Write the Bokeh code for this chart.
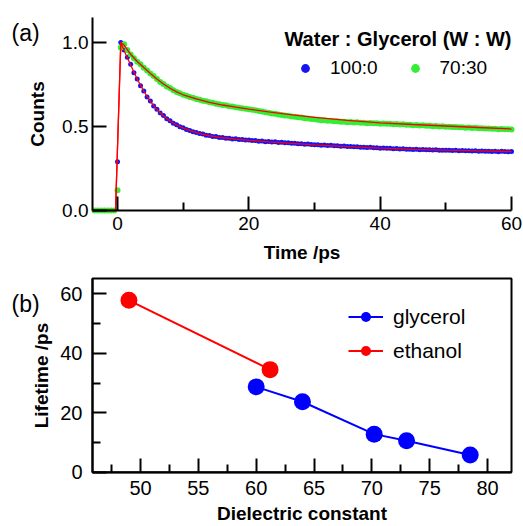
import numpy as np
from bokeh.plotting import figure
from bokeh.layouts import column
from bokeh.models import (Range1d, FixedTicker, Label, Legend, LegendItem,
                          PrintfTickFormatter, BoxAnnotation)
from bokeh.embed import file_html
from bokeh.resources import INLINE

FONT = "Liberation Sans"
BLUE = "#1414f5"
GREEN = "#33ee33"
RED = "#ff0000"

# ---------------- panel (a) data ----------------
time_ps = np.arange(-3.5, 60.01, 0.5)  # sampling grid of the measurement (ps)

counts_100_0 = [
    0.0, 0.0, 0.0, 0.0, 0.0, 0.0, 0.0,
    0.29, 1.00, 0.955, 0.913, 0.870, 0.820, 0.783, 0.742, 0.711, 0.675,
    0.652, 0.622, 0.603, 0.580, 0.565, 0.546, 0.535, 0.519, 0.511, 0.498,
    0.492, 0.482, 0.477, 0.469, 0.465, 0.458, 0.455, 0.448, 0.447, 0.441,
    0.440, 0.435, 0.435, 0.430, 0.430, 0.426, 0.427, 0.422, 0.422, 0.419, 0.419,
    0.416, 0.416, 0.413, 0.414, 0.410, 0.411, 0.408, 0.409, 0.405, 0.406,
    0.403, 0.404, 0.400, 0.401, 0.398, 0.398, 0.395, 0.396, 0.393, 0.392,
    0.392, 0.389, 0.390, 0.387, 0.388, 0.385, 0.386, 0.383, 0.384, 0.381,
    0.381, 0.379, 0.380, 0.377, 0.377, 0.375, 0.376, 0.373, 0.373, 0.371,
    0.372, 0.370, 0.370, 0.368, 0.369, 0.366, 0.367, 0.365, 0.365, 0.363,
    0.364, 0.362, 0.363, 0.361, 0.361, 0.360, 0.361, 0.359, 0.359, 0.358,
    0.359, 0.357, 0.358, 0.356, 0.357, 0.355, 0.356, 0.354, 0.355, 0.353,
    0.354, 0.352, 0.353, 0.351, 0.352, 0.350, 0.352, 0.351, 0.350, 0.351,
]

counts_70_30 = [
    0.0, 0.0, 0.0, 0.0, 0.0, 0.0, 0.0,
    0.12, 0.97, 0.99, 0.955, 0.928, 0.906, 0.886, 0.870, 0.850, 0.833,
    0.815, 0.800, 0.783, 0.765, 0.753, 0.738, 0.729, 0.716, 0.706, 0.698,
    0.689, 0.683, 0.676, 0.671, 0.664, 0.660, 0.653, 0.650, 0.644, 0.641,
    0.636, 0.633, 0.628, 0.626, 0.621, 0.619, 0.615, 0.612, 0.609, 0.606, 0.603,
    0.600, 0.597, 0.593, 0.590, 0.585, 0.582, 0.578, 0.576, 0.572, 0.569,
    0.566, 0.564, 0.560, 0.558, 0.555, 0.553, 0.549, 0.548, 0.545, 0.543,
    0.541, 0.538, 0.537, 0.534, 0.534, 0.531, 0.531, 0.528, 0.529, 0.526,
    0.527, 0.524, 0.525, 0.522, 0.523, 0.520, 0.521, 0.519, 0.520, 0.517,
    0.518, 0.516, 0.516, 0.514, 0.515, 0.512, 0.513, 0.510, 0.511, 0.508,
    0.509, 0.506, 0.507, 0.504, 0.505, 0.502, 0.503, 0.500, 0.501, 0.499,
    0.499, 0.497, 0.497, 0.495, 0.496, 0.493, 0.494, 0.491, 0.492, 0.489,
    0.490, 0.488, 0.488, 0.486, 0.487, 0.484, 0.485, 0.483, 0.484, 0.482,
]

fit_time = [-3.81, -0.3, 0.5, 1, 2, 3, 4, 5, 6, 7, 8, 9, 10, 12, 14, 16, 18,
            20, 23, 26, 30, 35, 40, 45, 50, 55, 60]
fit_100_0 = [0, 0, 1.0, 0.953, 0.866, 0.782, 0.710, 0.650, 0.601, 0.563,
             0.533, 0.509, 0.490, 0.463, 0.445, 0.433, 0.425, 0.418, 0.409,
             0.401, 0.391, 0.380, 0.371, 0.364, 0.359, 0.355, 0.351]
fit_70_30 = [0, 0, 1.0, 0.985, 0.930, 0.887, 0.851, 0.816, 0.783, 0.753,
             0.728, 0.706, 0.689, 0.664, 0.644, 0.628, 0.615, 0.603, 0.587,
             0.572, 0.554, 0.536, 0.522, 0.512, 0.503, 0.494, 0.485]

x_ticks_a = [0, 20, 40, 60]
x_minor_a = [10, 30, 50]
y_ticks_a = [0.0, 0.5, 1.0]
xa_lo, xa_hi = -3.81, 60.0      # axis extents of panel (a)
ya_lo, ya_hi = 0.0, 1.149

# ---------------- panel (b) data ----------------
eps_glycerol = [60.0, 64.0, 70.2, 73.0, 78.5]
tau_glycerol = [28.7, 23.7, 12.8, 10.6, 5.8]
eps_ethanol = [49.0, 61.2]
tau_ethanol = [57.8, 34.5]

x_ticks_b = [50, 55, 60, 65, 70, 75, 80]
x_minor_b = [47.5, 52.5, 57.5, 62.5, 67.5, 72.5, 77.5]
y_ticks_b = [0, 20, 40, 60]
y_minor_b = [10, 30, 50]
xb_lo, xb_hi = 45.85, 82.07     # axis extents of panel (b)
yb_lo, yb_hi = 0.0, 65.15

# ---------------- layout (pixels) ----------------
W = 523
H1, H2 = 268, 258
A_box = (92, 511, 17, 210)        # left, right, top, bottom of plot area (a)
B_box = (92, 511, 10, 203.7)      # same for (b), relative to its canvas


def canvas_ranges(box, H, xlo, xhi, ylo, yhi):
    left, right, top, bottom = box
    pxu = (right - left) / (xhi - xlo)
    pyu = (bottom - top) / (yhi - ylo)
    xr = Range1d(xlo - left / pxu, xhi + (W - right) / pxu)
    yr = Range1d(ylo - (H - bottom) / pyu, yhi + top / pyu)
    return xr, yr


def style_axis(ax, tick_size, label_size, label_standoff, axis_standoff):
    ax.axis_line_width = 2
    ax.axis_line_color = "black"
    ax.major_tick_in = 14
    ax.major_tick_out = 0
    ax.minor_tick_in = 8
    ax.minor_tick_out = 0
    ax.major_tick_line_width = 2
    ax.minor_tick_line_width = 2
    ax.major_tick_line_color = "black"
    ax.minor_tick_line_color = "black"
    ax.major_label_text_font = FONT
    ax.major_label_text_font_size = tick_size
    ax.major_label_text_color = "black"
    ax.major_label_standoff = label_standoff
    ax.axis_label_text_font = FONT
    ax.axis_label_text_font_size = label_size
    ax.axis_label_text_font_style = "bold"
    ax.axis_label_text_color = "black"
    ax.axis_label_standoff = axis_standoff


def base_figure(H, xr, yr):
    p = figure(width=W, height=H, x_range=xr, y_range=yr, output_backend="svg",
               toolbar_location=None, min_border=0, min_border_left=0,
               min_border_right=0, min_border_top=0, min_border_bottom=0)
    p.outline_line_color = None
    p.xgrid.visible = False
    p.ygrid.visible = False
    p.background_fill_color = "white"
    p.border_fill_color = "white"
    return p


# ---------------- figure (a) ----------------
xr1, yr1 = canvas_ranges(A_box, H1, xa_lo, xa_hi, ya_lo, ya_hi)
p1 = base_figure(H1, xr1, yr1)

r_b = p1.scatter(time_ps, counts_100_0, size=5, color=BLUE, line_color=None)
r_g = p1.scatter(time_ps, counts_70_30, size=6, color=GREEN, line_color=None)
p1.line(fit_time, fit_100_0, line_color=RED, line_width=1.3)
p1.line(fit_time, fit_70_30, line_color=RED, line_width=1.3)

xa = p1.xaxis[0]
ya = p1.yaxis[0]
xa.fixed_location = ya_lo
xa.bounds = (xa_lo, xa_hi)
ya.fixed_location = xa_lo
ya.bounds = (ya_lo, ya_hi)
xa.ticker = FixedTicker(ticks=x_ticks_a, minor_ticks=x_minor_a)
ya.ticker = FixedTicker(ticks=y_ticks_a, minor_ticks=[])
ya.formatter = PrintfTickFormatter(format="%.1f")
xa.axis_label = "Time /ps"
ya.axis_label = "Counts"
style_axis(xa, "19px", "19px", 6, 9)
style_axis(ya, "19px", "19px", 4, 11)

leg1 = Legend(items=[LegendItem(label="100:0", renderers=[r_b]),
                     LegendItem(label="70:30", renderers=[r_g])],
              orientation="horizontal", location=(294, 189),
              glyph_width=22, glyph_height=22, label_standoff=14, spacing=26,
              padding=0, margin=0, border_line_color=None,
              background_fill_alpha=0, label_text_font=FONT,
              label_text_font_size="19px", label_text_color="black")
p1.add_layout(leg1)

p1.add_layout(Label(x=511, y=230, x_units="screen", y_units="screen",
                    text="Water : Glycerol (W : W)", text_align="right",
                    text_baseline="alphabetic", text_font=FONT,
                    text_font_style="bold", text_font_size="20px",
                    text_color="black"))
p1.add_layout(Label(x=11, y=236, x_units="screen", y_units="screen",
                    text="(a)", text_align="left", text_baseline="alphabetic",
                    text_font=FONT, text_font_size="23px", text_color="black"))

# ---------------- figure (b) ----------------
xr2, yr2 = canvas_ranges(B_box, H2, xb_lo, xb_hi, yb_lo, yb_hi)
p2 = base_figure(H2, xr2, yr2)

p2.add_layout(BoxAnnotation(left=xb_lo, right=xb_hi, bottom=yb_lo, top=yb_hi,
                            fill_alpha=0, line_color="black", line_width=2,
                            line_alpha=1))

l_g = p2.line(eps_glycerol, tau_glycerol, line_color="#0000ff", line_width=2)
s_g = p2.scatter(eps_glycerol, tau_glycerol, size=17, color="#0000ff", line_color=None)
l_e = p2.line(eps_ethanol, tau_ethanol, line_color=RED, line_width=2)
s_e = p2.scatter(eps_ethanol, tau_ethanol, size=17, color=RED, line_color=None)

xb = p2.xaxis[0]
yb = p2.yaxis[0]
xb.fixed_location = yb_lo
xb.bounds = (xb_lo, xb_hi)
yb.fixed_location = xb_lo
yb.bounds = (yb_lo, yb_hi)
xb.ticker = FixedTicker(ticks=x_ticks_b, minor_ticks=x_minor_b)
yb.ticker = FixedTicker(ticks=y_ticks_b, minor_ticks=y_minor_b)
xb.axis_label = "Dielectric constant"
yb.axis_label = "Lifetime /ps"
style_axis(xb, "20px", "19px", 9, 4)
style_axis(yb, "20px", "19px", 10, 5)

leg2 = Legend(items=[LegendItem(label="glycerol", renderers=[l_g, s_g]),
                     LegendItem(label="ethanol", renderers=[l_e, s_e])],
              orientation="vertical", location=(348, 163),
              glyph_width=35, glyph_height=25, label_standoff=10, spacing=9,
              padding=0, margin=0, border_line_color=None,
              background_fill_alpha=0, label_text_font=FONT,
              label_text_font_size="21px", label_text_color="black")
p2.add_layout(leg2)

p2.add_layout(Label(x=11, y=223, x_units="screen", y_units="screen",
                    text="(b)", text_align="left", text_baseline="alphabetic",
                    text_font=FONT, text_font_size="23px", text_color="black"))

layout = column(p1, p2, spacing=0)
open("out.html", "w").write(file_html(layout, INLINE))
